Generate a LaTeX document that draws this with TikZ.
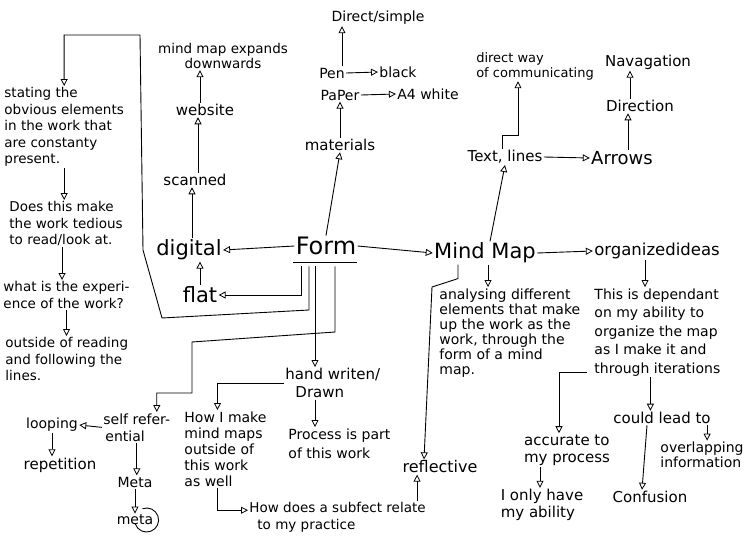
\documentclass[tikz,border=0pt]{standalone}
\usepackage{fontspec}
\setmainfont{DejaVu Sans}
\usetikzlibrary{arrows.meta,calc}
\begin{document}
\begin{tikzpicture}[x=1pt,y=-1pt, line width=0.9pt,
  arr/.style={-{Triangle[open,length=7pt,width=7pt,line width=0.8pt]}},
  lbl/.style={inner sep=1pt, font=\fontsize{15}{17}\selectfont},
  blk/.style={inner sep=1pt, align=left, font=\fontsize{13.5}{16.5}\selectfont},
  big/.style={inner sep=1pt, font=\fontsize{21}{24}\selectfont}]
\useasboundingbox (0,0) rectangle (753,538);
\fill[white] (0,0) rectangle (753,538);

% ---------- left column ----------
\node[blk, anchor=north west] (stating) at (3,86) {stating the\\obvious elements\\in the work that\\are constanty\\present.};
\node[blk, anchor=north west] (does) at (8,200) {Does this make\\the work tedious\\to read/look at.};
\node[blk, anchor=north west] (what) at (2,280) {what is the experi-\\ence of the work?};
\node[blk, anchor=north west] (outside) at (4,336) {outside of reading\\and following the\\lines.};

% ---------- digital branch ----------
\node[lbl, font=\fontsize{13.5}{15}\selectfont, align=center] (mindexp) at (223,56) {mind map expands\\downwards};
\node[lbl] (website) at (205,110) {website};
\node[lbl] (scanned) at (195,180) {scanned};
\node[big] (digital) at (189,250) {digital};
\node[big] (flat) at (200,295) {flat};

% ---------- centre ----------
\node[big, font=\fontsize{24}{26}\selectfont] (form) at (326,246) {Form};
\coordinate (ul) at ([yshift=-6pt]form.south);
\draw ([xshift=-33pt]ul) -- ([xshift=31pt]ul);

% ---------- materials ----------
\node[lbl] (materials) at (340,145) {materials};
\node[lbl, font=\fontsize{14}{16}\selectfont] (paper) at (340,95) {PaPer};
\node[lbl, font=\fontsize{14}{16}\selectfont] (pen) at (332,73) {Pen};
\node[lbl, font=\fontsize{14}{16}\selectfont] (black) at (398,72) {black};
\node[lbl, font=\fontsize{14}{16}\selectfont] (a4) at (428,94) {A4 white};
\node[lbl, font=\fontsize{14}{16}\selectfont] (direct) at (378,18) {Direct/simple};

% ---------- mind map ----------
\node[big] (mindmap) at (485,253) {Mind Map};
\node[lbl, font=\fontsize{16.5}{18}\selectfont] (organized) at (657,251) {organizedideas};
\node[lbl] (textlines) at (505,157) {Text, lines};
\node[lbl, font=\fontsize{18}{20}\selectfont] (arrows) at (622,158) {Arrows};
\node[lbl] (direction) at (640,106) {Direction};
\node[lbl] (navagation) at (648,62) {Navagation};
\node[lbl, font=\fontsize{13}{15}\selectfont, align=left] (directway) at (535,66) {direct way\\of communicating};
\node[blk, anchor=north west, font=\fontsize{14}{15}\selectfont] (analysing) at (438,287) {analysing different\\elements that make\\up the work as the\\work, through the\\form of a mind\\map.};
\node[blk, anchor=north west, font=\fontsize{14}{18.5}\selectfont] (dependant) at (593,287) {This is dependant\\on my ability to\\organize the map\\as I make it and\\through iterations};
\node[lbl, align=left] (accurate) at (567,450) {accurate to\\my process};
\node[lbl, align=left] (ionly) at (542,505) {I only have\\my ability};
\node[lbl] (could) at (662,418) {could lead to};
\node[lbl] (confusion) at (650,497) {Confusion};
\node[lbl, align=left, font=\fontsize{14}{15}\selectfont] (overlap) at (702,455) {overlapping\\information};
\node[lbl, font=\fontsize{16}{18}\selectfont] (reflective) at (440,467) {reflective};

% ---------- bottom ----------
\node[blk, anchor=north west, font=\fontsize{13.5}{16.5}\selectfont] (subject) at (248,501) {How does a subfect relate\\\hspace*{8pt}to my practice};
\node[blk, anchor=north west, font=\fontsize{14}{16}\selectfont] (howimake) at (183,410) {How I make\\mind maps\\outside of\\this work\\as well};
\node[blk, anchor=north west, font=\fontsize{14}{19}\selectfont] (process) at (287,427) {Process is part\\of this work};
\node[blk, anchor=north west, font=\fontsize{15}{18}\selectfont] (hand) at (284,367) {hand writen/\\\hspace*{10pt}Drawn};
\node[blk, anchor=north west, font=\fontsize{14}{17}\selectfont] (selfref) at (102,412) {self refer-\\\hspace*{2pt}ential};
\node[lbl, font=\fontsize{14}{16}\selectfont] (looping) at (52,425) {looping};
\node[lbl] (repetition) at (60,465) {repetition};
\node[lbl, font=\fontsize{14}{16}\selectfont] (meta1) at (135,482) {Meta};
\node[lbl, font=\fontsize{14}{16}\selectfont] (meta2) at (135,520) {meta};
\coordinate (mc) at ([xshift=-8pt]meta2.east);
\draw (mc) ++(-110:12) arc[start angle=-110, end angle=160, radius=12];

% ---------- connectors ----------
\coordinate (fa) at ([xshift=-25pt,yshift=-4pt]ul);
\coordinate (fb) at ([xshift=-17pt,yshift=-4pt]ul);
\coordinate (fc) at ([xshift=-11pt,yshift=-4pt]ul);
\coordinate (fd) at ([xshift=9pt,yshift=-4pt]ul);

\draw[arr] (form.west) -- (digital.east);
\draw[arr] (form.east) -- (mindmap.west);
\draw[arr] (form.north) -- (materials.south);
\draw[arr] (fa) |- (flat.east);
\coordinate (b1) at (309,310);
\coordinate (b2) at (162,318);
\coordinate (b3) at (143,250);
\coordinate (b4) at (140,35);
\draw[arr] (fb) -- (fb |- b1) -- (b2) -- (b3) -- (b4) -| (stating.north);
\draw[arr] (fc) -- (fc |- hand.north);
\coordinate (d1) at (335,332);
\coordinate (d2) at (192,342);
\coordinate (d3) at (192,393);
\draw[arr] (fd) -- (fd |- d1) -- (d2) -- (d3) -| ([xshift=20pt]selfref.north);

\draw[arr] (stating.south) -- (stating.south |- does.north);
\draw[arr] ([xshift=-4pt]does.south) -- ([xshift=-4pt]does.south |- what.north);
\draw[arr] (what.south) -- (what.south |- outside.north);

\draw[arr] (flat.north) -- (flat.north |- digital.south);
\draw[arr] ([xshift=3pt]digital.north) -- ([xshift=3pt]digital.north |- scanned.south);
\draw[arr] ([xshift=3pt]scanned.north) -- ([xshift=3pt]scanned.north |- website.south);
\draw[arr] ([xshift=-5pt]website.north) -- ([xshift=-5pt]website.north |- mindexp.south);

\draw[arr] (materials.north) -- (materials.north |- paper.south);
\draw[arr] (paper.east) -- (a4.west);
\draw[arr] (pen.east) -- (black.west);
\draw[arr] ([xshift=10pt]pen.north) -- ([xshift=10pt]pen.north |- direct.south);

\draw[arr] ([xshift=5pt]mindmap.north) -- (textlines.south);
\draw[arr] (textlines.east) -- (arrows.west);
\draw[arr] ([xshift=-3pt]textlines.north) -- ++(0,-14) -| ([xshift=-17pt]directway.south);
\draw[arr] ([xshift=6pt]arrows.north) -- ([xshift=6pt]arrows.north |- direction.south);
\draw[arr] ([xshift=-10pt]direction.north) -- ([xshift=-10pt]direction.north |- navagation.south);
\draw[arr] (mindmap.east) -- (organized.west);
\draw[arr] ([xshift=3pt]mindmap.south) -- ([xshift=3pt]mindmap.south |- analysing.north);
\coordinate (r1) at (432,287);
\draw[arr] ([xshift=-27pt]mindmap.south) -- ++(0,14) -- (r1) -- ([xshift=-16pt]reflective.north);
\draw[arr] ([xshift=-12pt]organized.south) -- ([xshift=-12pt]organized.south |- dependant.north);
\draw[arr] ([xshift=-6pt,yshift=5pt]dependant.south west) -| ([xshift=-8pt]accurate.north);
\draw[arr] ([xshift=-7pt]dependant.south) -- ([xshift=-7pt]dependant.south |- could.north);
\draw[arr] ([xshift=-15pt]could.south) -- ([xshift=-8pt]confusion.north);
\draw[arr] ([xshift=-5pt]could.south east) -- ([xshift=-5pt]could.south east |- overlap.north);
\draw[arr] ([xshift=-27pt]accurate.south) -- ([xshift=-27pt]accurate.south |- ionly.north);

\draw[arr] (hand.west) -| ([xshift=-8pt]howimake.north);
\draw[arr] (fc |- hand.south) -- (fc |- process.north);
\draw[arr] ([xshift=-8pt]howimake.south) |- ([yshift=7pt]subject.west);
\draw[arr] ([xshift=-10pt]subject.north east) -- ([xshift=-10pt]subject.north east |- reflective.south);
\draw[arr] (selfref.west) -- (looping.east);
\draw[arr] (looping.south) -- (looping.south |- repetition.north);
\draw[arr] (selfref.south) -- (selfref.south |- meta1.north);
\draw[arr] (meta1.south) -- (meta2.north);
\end{tikzpicture}
\end{document}
